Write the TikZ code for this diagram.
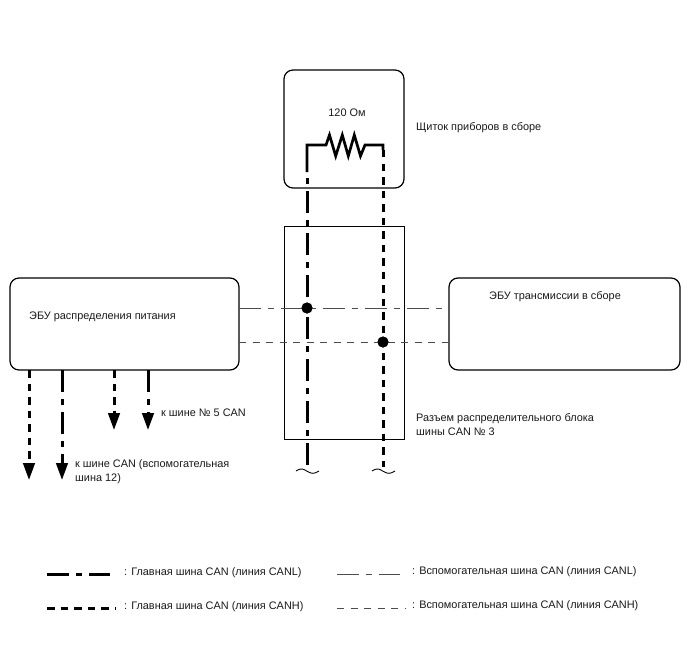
\documentclass[tikz,border=0pt]{standalone}
\usepackage{fontspec}
\setmainfont{Liberation Sans}
\usetikzlibrary{arrows.meta}
\tikzset{
  x=1pt,y=-1pt,
  ecu/.style={draw=black,line width=1.2pt,rounded corners=9pt,minimum width=#1,inner sep=0pt},
  lbl/.style={anchor=base west,inner sep=0pt,font=\fontsize{10.9}{13}\selectfont,text=black!90},
  mainL/.style={line width=3pt,dash pattern=on 22pt off 7pt on 6pt off 7pt},
  mainH/.style={line width=3pt,dash pattern=on 7.5pt off 6pt},
  subL/.style={line width=1pt,draw=black!70,dash pattern=on 22pt off 7pt on 6pt off 7pt},
  subH/.style={line width=1pt,draw=black!70,dash pattern=on 7pt off 6.5pt},
  tip/.style={-{Triangle[length=17pt,width=11.5pt]}},
  junction/.style={circle,fill=black,minimum size=11pt,inner sep=0pt},
  wave/.style={line width=0.9pt},
}
\begin{document}
\begin{tikzpicture}
\useasboundingbox (0,0) rectangle (688,658);
\node[ecu=120pt,minimum height=118pt] (panel) at (344,129) {};
\node[draw=black,line width=1pt,minimum width=120pt,minimum height=213pt,inner sep=0pt] (jbox) at (344,332.5) {};
\node[ecu=229pt,minimum height=92pt] (pdu) at (124.5,324) {};
\node[ecu=231pt,minimum height=92pt] (tcu) at (564.5,324) {};
\node[junction] (j1) at (307,308) {};
\node[junction] (j2) at (383,342) {};
% resistor
\coordinate (rL) at (326,145); \coordinate (rR) at (365,145);
\coordinate (c1) at (307,145); \coordinate (c2) at (383,145);
\coordinate (l1) at (307,172); \coordinate (l2) at (307,178);
\coordinate (e1) at (307,465); \coordinate (e2) at (383,467);
\draw[line width=2.7pt,miter limit=10] (l1) -- (c1) -- (rL) -- (329.5,135) -- (335.7,156) -- (342.3,135) -- (348.3,156) -- (354.3,135) -- (360.5,156) -- (rR) -- (c2) -- (383,150);
\draw[mainL,dash phase=29pt] (l2) -- (e1);
\draw[mainH,dash phase=0pt] (383,150) -- (e2);
% sub buses
\coordinate (a1) at (239,308); \coordinate (b1) at (449,308);
\coordinate (a2) at (239,342); \coordinate (b2) at (449,342);
\draw[subL] (a1) -- (b1);
\draw[subH] (a2) -- (b2);
\node[junction] at (j1) {};
\node[junction] at (j2) {};
% breaks
\draw[wave] (296,471) .. controls (302,467.5) and (303,469) .. (307.5,471.5) .. controls (312,474) and (314,474) .. (319,471);
\draw[wave] (372,471) .. controls (378,467.5) and (379,469) .. (383.5,471.5) .. controls (388,474) and (390,474) .. (395,471);
% arrows
\coordinate (s1) at (29,370); \coordinate (t1) at (29,480);
\coordinate (s2) at (62,370); \coordinate (t2) at (62,480);
\coordinate (s3) at (114,370); \coordinate (t3) at (114,430);
\coordinate (s4) at (148,370); \coordinate (t4) at (148,430);
\draw[mainH,tip] (s1) -- (t1);
\draw[mainL,tip] (s2) -- (t2);
\draw[mainH,tip] (s3) -- (t3);
\draw[mainL,tip] (s4) -- (t4);
% legend
\coordinate (k1) at (47,574); \coordinate (k1e) at (110,574);
\coordinate (k2) at (47,608); \coordinate (k2e) at (116,608);
\coordinate (k3) at (337,574); \coordinate (k3e) at (400,574);
\coordinate (k4) at (337,608); \coordinate (k4e) at (406,608);
\draw[mainL] (k1) -- (k1e);
\draw[mainH] (k2) -- (k2e);
\draw[subL] (k3) -- (k3e);
\draw[subH] (k4) -- (k4e);
% labels
\node[lbl,anchor=base] (tR) at (347,117) {120 Ом};
\node[lbl] (tP) at (416,131) {Щиток приборов в сборе};
\node[lbl] (tD) at (29,319) {ЭБУ распределения питания};
\node[lbl] (tT) at (489,299) {ЭБУ трансмиссии в сборе};
\node[lbl] (t5) at (161,416) {к шине № 5 CAN};
\node[lbl] (t12a) at (75,467) {к шине CAN (вспомогательная};
\node[lbl] (t12b) at (75,481) {шина 12)};
\node[lbl] (tJa) at (416,421) {Разъем распределительного блока};
\node[lbl] (tJb) at (416,435) {шины CAN № 3};
\node[lbl] (tL1) at (124,575) {: Главная шина CAN (линия CANL)};
\node[lbl] (tL2) at (124,609) {: Главная шина CAN (линия CANH)};
\node[lbl] (tL3) at (412,574) {: Вспомогательная шина CAN (линия CANL)};
\node[lbl] (tL4) at (412,608) {: Вспомогательная шина CAN (линия CANH)};
\end{tikzpicture}
\end{document}
